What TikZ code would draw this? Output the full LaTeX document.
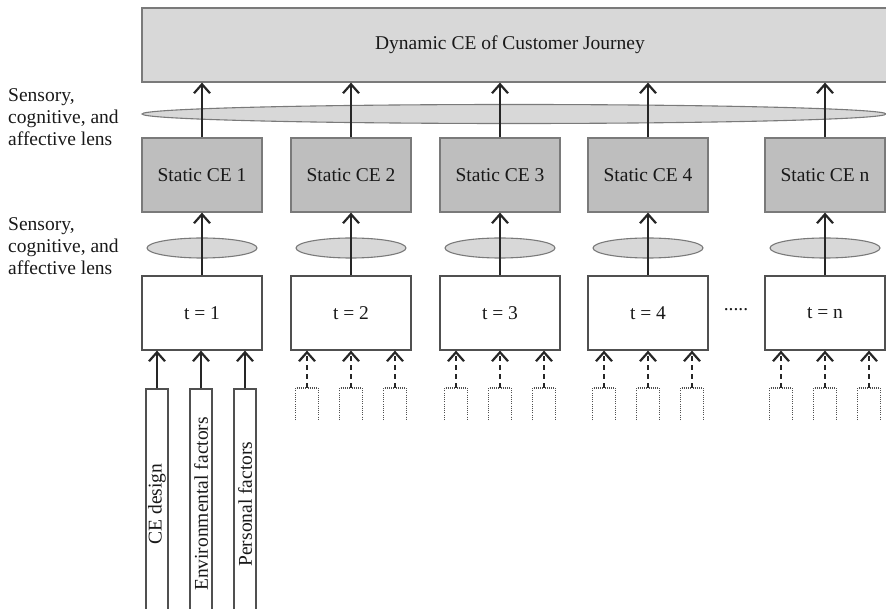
\documentclass[tikz,border=0pt]{standalone}
\usepackage{fontspec}
\setmainfont{Liberation Serif}
\usetikzlibrary{arrows.meta,shapes.geometric}
\definecolor{lightg}{HTML}{D8D8D8}
\definecolor{midg}{HTML}{BEBEBE}
\definecolor{edgeg}{HTML}{7A7A7A}
\definecolor{darkedge}{HTML}{505050}
\begin{document}
\begin{tikzpicture}[x=1pt,y=-1pt,
  every node/.style={font=\fontsize{19.5}{22}\selectfont, text=black!90},
  topbox/.style={draw=edgeg, fill=lightg, line width=1.2pt, minimum width=748pt, minimum height=74pt, inner sep=0pt},
  sbox/.style={draw=edgeg, fill=midg, line width=1.2pt, minimum width=120pt, minimum height=74pt, inner sep=0pt},
  tbox/.style={draw=darkedge, fill=white, line width=1.2pt, minimum width=120pt, minimum height=74pt, inner sep=0pt},
  lens/.style={ellipse, draw=edgeg, fill=lightg, line width=1.1pt, inner sep=0pt},
  fbox/.style={draw=darkedge, fill=white, line width=1.2pt, minimum width=22pt, minimum height=230pt, inner sep=0pt},
  arr/.style={draw=black!85, line width=2.2pt, -{Straight Barb[length=9pt,width=16pt,line width=2.2pt]}},
  darr/.style={draw=black!85, line width=2.2pt, dash pattern=on 5pt off 4pt, -{Straight Barb[length=9pt,width=16pt,line width=2.2pt,sep=0pt]}},
  dotbox/.style={draw=darkedge, line width=1.2pt, dash pattern=on 1pt off 1.2pt},
  lbl/.style={align=left, anchor=west, inner sep=0pt}
]
\useasboundingbox (0,0) rectangle (886,609);
\clip (0,0) rectangle (886,609);

% top box
\node[topbox] (dyn) at (516,45) {};
\node at (510,45) {Dynamic CE of Customer Journey};

% big lens
\node[lens, minimum width=744pt, minimum height=19pt] (biglens) at (514,114) {};

% left labels
\node[lbl] (lab1) at (8,117) {Sensory,\\cognitive, and\\affective lens};
\node[lbl] (lab2) at (8,246) {Sensory,\\cognitive, and\\affective lens};

% columns
\foreach \i/\x in {1/202,2/351,3/500,4/648,n/825}{
  \node[sbox] (s\i) at (\x,175) {Static CE \i};
  \node[lens, minimum width=110pt, minimum height=20pt] (l\i) at (\x,248) {};
  \node[tbox] (t\i) at (\x,313) {t = \i};
  \draw[arr] (t\i.north) -- (s\i.south);
  \draw[arr] (s\i.north) -- (s\i.north |- dyn.south);
}

% dots between t=4 and t=n
\node[anchor=base, inner sep=0pt] (dots) at (736,311) {.....};

% inputs to t=1
\node[fbox] (f1) at (157,504) {};
\node[fbox] (f2) at (201,504) {};
\node[fbox] (f3) at (245,504) {};
\node[rotate=90] at (f1) {CE design};
\node[rotate=90] at (f2) {Environmental factors};
\node[rotate=90] at (f3) {Personal factors};
\foreach \k in {1,2,3}{
  \draw[arr] (f\k.north) -- (f\k.north |- t1.south);
}

% dotted inputs for t=2..n
\foreach \i/\x in {2/351,3/500,4/648,n/825}{
  \foreach \k/\dx in {a/-44,b/0,c/44}{
    \coordinate (d\i\k) at (\x+\dx,388);
    \draw[dotbox] (\x+\dx-11.5,420) |- (\x+\dx+11.5,388) -- (\x+\dx+11.5,420);
    \draw[darr] (d\i\k) -- (d\i\k |- t\i.south);
  }
}
\end{tikzpicture}
\end{document}
